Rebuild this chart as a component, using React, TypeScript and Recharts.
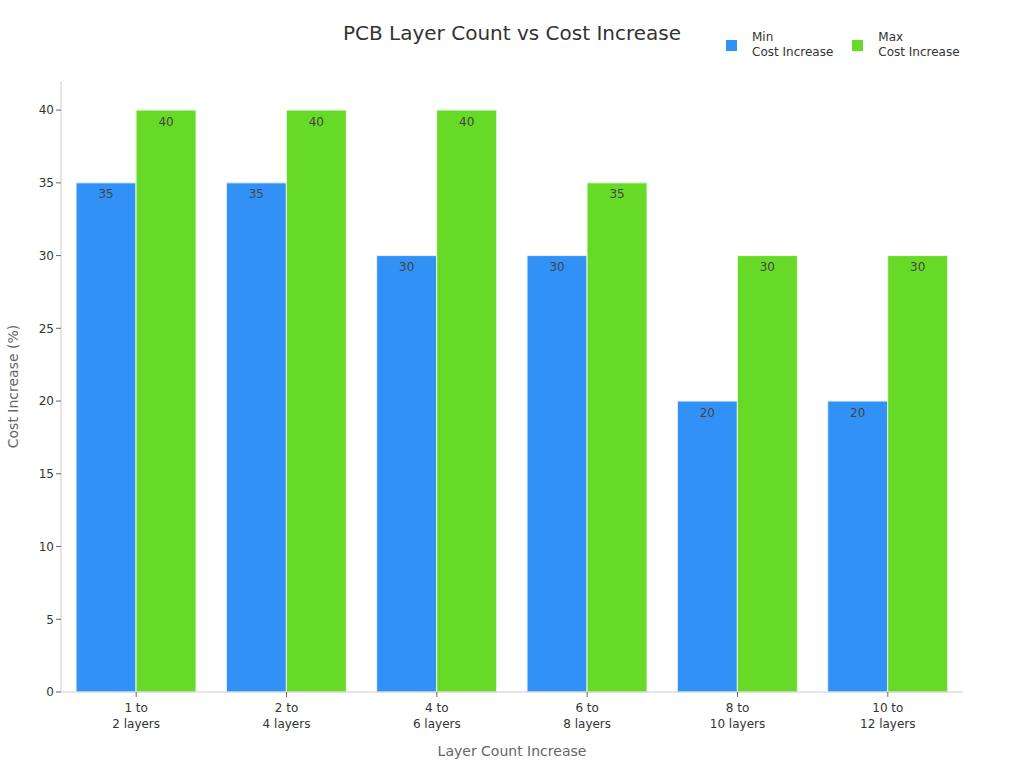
import React from "react";
import {
  BarChart,
  Bar,
  XAxis,
  YAxis,
  Legend,
  LabelList,
} from "recharts";

const categories = [
  "1 to\n2 layers",
  "2 to\n4 layers",
  "4 to\n6 layers",
  "6 to\n8 layers",
  "8 to\n10 layers",
  "10 to\n12 layers",
];
const minIncrease = [35, 35, 30, 30, 20, 20];
const maxIncrease = [40, 40, 40, 35, 30, 30];
const yTicks = [0, 5, 10, 15, 20, 25, 30, 35, 40];

const data = categories.map((name, i) => ({
  name,
  min: minIncrease[i],
  max: maxIncrease[i],
}));

const FONT = "'DejaVu Sans', sans-serif";
const BLUE = "#3291F7";
const GREEN = "#67DA28";

function TwoLineTick(props: any) {
  const { x, y, payload } = props;
  const lines = String(payload.value).split("\n");
  return (
    <text x={x} y={y + 1} textAnchor="middle" fill="#333" fontSize={12} fontFamily={FONT}>
      {lines.map((l, i) => (
        <tspan key={i} x={x} dy={i === 0 ? 12 : 16}>
          {l}
        </tspan>
      ))}
    </text>
  );
}

function LegendContent() {
  const items = [
    { color: BLUE, top: "Min", bottom: "Cost Increase" },
    { color: GREEN, top: "Max", bottom: "Cost Increase" },
  ];
  return (
    <div style={{ display: "flex", gap: 19, fontFamily: FONT, fontSize: 12, color: "#333" }}>
      {items.map((it) => (
        <div key={it.top} style={{ display: "flex", alignItems: "center" }}>
          <div style={{ width: 11, height: 11, background: it.color, marginRight: 15 }} />
          <div style={{ lineHeight: "15px" }}>
            <div>{it.top}</div>
            <div>{it.bottom}</div>
          </div>
        </div>
      ))}
    </div>
  );
}

export default function App() {
  return (
    <div style={{ position: "absolute", left: 0, top: 0, width: 1024, height: 768, background: "#fff" }}>
      <div
        style={{
          position: "absolute",
          top: 21,
          left: 0,
          width: 1024,
          textAlign: "center",
          fontFamily: FONT,
          fontSize: 20,
          color: "#333",
        }}
      >
        PCB Layer Count vs Cost Increase
      </div>
      <BarChart
        width={1024}
        height={768}
        data={data}
        margin={{ top: 81, right: 61, bottom: 0, left: 0 }}
        barCategoryGap="10%"
        barGap={0}
      >
        <XAxis
          dataKey="name"
          height={76}
          interval={0}
          stroke="#ccc"
          tickLine={{ stroke: "#666" }}
          tickSize={5}
          tick={<TwoLineTick />}
          label={{
            value: "Layer Count Increase",
            position: "insideBottom",
            offset: 12,
            fill: "#666",
            fontSize: 14,
            fontFamily: FONT,
          }}
        />
        <YAxis
          width={61}
          domain={[0, 42]}
          ticks={yTicks}
          stroke="#ccc"
          tickLine={{ stroke: "#666" }}
          tickSize={5}
          tick={{ fill: "#333", fontSize: 12, fontFamily: FONT }}
          label={{
            value: "Cost Increase (%)",
            angle: -90,
            position: "insideLeft",
            offset: 13,
            style: { textAnchor: "middle" },
            fill: "#666",
            fontSize: 14,
            fontFamily: FONT,
          }}
        />
        <Legend
          layout="horizontal"
          verticalAlign="middle"
          content={<LegendContent />}
          wrapperStyle={{ top: 30, left: 726, width: 280, height: 36 }}
        />
        <Bar dataKey="min" name="Min Cost Increase" fill={BLUE} stroke="#e8f2fe" strokeWidth={1} isAnimationActive={false}>
          <LabelList dataKey="min" position="insideTop" offset={7} fill="#444" fontSize={12} fontFamily={FONT} />
        </Bar>
        <Bar dataKey="max" name="Max Cost Increase" fill={GREEN} stroke="#eafbe0" strokeWidth={1} isAnimationActive={false}>
          <LabelList dataKey="max" position="insideTop" offset={7} fill="#444" fontSize={12} fontFamily={FONT} />
        </Bar>
      </BarChart>
    </div>
  );
}
